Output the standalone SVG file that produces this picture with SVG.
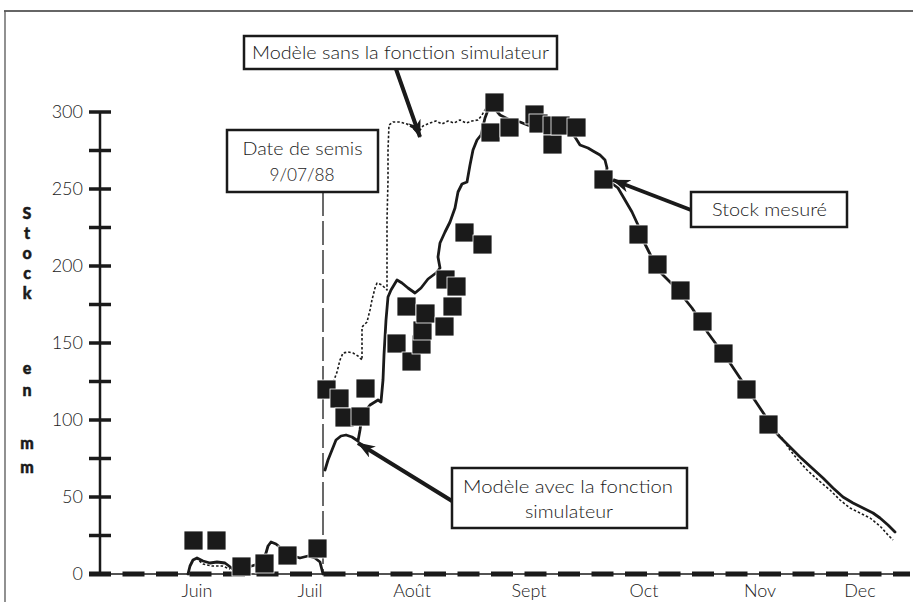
<svg xmlns="http://www.w3.org/2000/svg" width="913" height="602" viewBox="0 0 913 602">
<style>
.t{font-family:Lato,"Open Sans","Liberation Sans",sans-serif;fill:#1a1a1a;font-weight:300}
.lbl{font-size:18px}
.tick{font-size:18px;text-anchor:end}
.mon{font-size:18px;text-anchor:middle}
.yl{font-family:Lato,"Open Sans","Liberation Sans",sans-serif;font-size:16px;font-weight:900;text-anchor:middle;fill:#1a1a1a;stroke:#1a1a1a;stroke-width:0.5}
.box{fill:#fff;stroke:#1a1a1a;stroke-width:2.5}
.arr{stroke:#1a1a1a;stroke-width:4;fill:none;marker-end:url(#ah)}
.sq{fill:#1a1a1a;stroke:#fff;stroke-width:0.8}
.solid{fill:none;stroke:#1a1a1a;stroke-width:2.8;stroke-linejoin:round;stroke-linecap:round}
.dot{fill:none;stroke:#1a1a1a;stroke-width:1.6;stroke-dasharray:2.5 2;stroke-linejoin:round}
.ytick{stroke:#1a1a1a;stroke-width:3.5}
</style>
<defs>
<marker id="ah" markerUnits="userSpaceOnUse" markerWidth="22" markerHeight="14" refX="17" refY="6.5" orient="auto">
<path d="M0,0 L18,6.5 L0,13 L5,6.5 z" fill="#1a1a1a"/>
</marker>
</defs>
<rect width="913" height="602" fill="#fff"/>
<!-- frame -->
<line x1="4" y1="11" x2="913" y2="11" stroke="#333" stroke-width="1.5"/>
<line x1="5" y1="11" x2="5" y2="602" stroke="#555" stroke-width="1.3"/>

<!-- y axis -->
<g id="y-axis">
<line x1="100" y1="112" x2="100" y2="574" stroke="#1a1a1a" stroke-width="2.5"/>
<g class="ytick">
<line x1="89" y1="112" x2="111" y2="112"/>
<line x1="89" y1="150.5" x2="111" y2="150.5"/>
<line x1="89" y1="189" x2="111" y2="189"/>
<line x1="89" y1="227.5" x2="111" y2="227.5"/>
<line x1="89" y1="266" x2="111" y2="266"/>
<line x1="89" y1="304.5" x2="111" y2="304.5"/>
<line x1="89" y1="343" x2="111" y2="343"/>
<line x1="89" y1="381.5" x2="111" y2="381.5"/>
<line x1="89" y1="420" x2="111" y2="420"/>
<line x1="89" y1="458.5" x2="111" y2="458.5"/>
<line x1="89" y1="497" x2="111" y2="497"/>
<line x1="89" y1="535.5" x2="111" y2="535.5"/>
</g>
<text class="t tick" x="83" y="118">300</text>
<text class="t tick" x="83" y="195">250</text>
<text class="t tick" x="83" y="272">200</text>
<text class="t tick" x="83" y="349">150</text>
<text class="t tick" x="83" y="426">100</text>
<text class="t tick" x="83" y="503">50</text>
<text class="t tick" x="83" y="580">0</text>
</g>
<g id="y-label">
<text class="yl" x="27" y="219">S</text>
<text class="yl" x="27" y="239">t</text>
<text class="yl" x="27" y="259">o</text>
<text class="yl" x="27" y="279">c</text>
<text class="yl" x="27" y="299">k</text>
<text class="yl" x="27" y="374">e</text>
<text class="yl" x="27" y="396">n</text>
<text class="yl" x="27" y="449">m</text>
<text class="yl" x="27" y="473">m</text>
</g>

<!-- x axis -->
<g id="x-axis">
<line x1="89" y1="574" x2="910" y2="574" stroke="#1a1a1a" stroke-width="1.5"/>
<line x1="89" y1="574" x2="910" y2="574" stroke="#1a1a1a" stroke-width="5" stroke-dasharray="22 11.5"/>
<text class="t mon" x="197" y="597">Juin</text>
<text class="t mon" x="310" y="597">Juil</text>
<text class="t mon" x="412" y="597">Août</text>
<text class="t mon" x="529" y="597">Sept</text>
<text class="t mon" x="644" y="597">Oct</text>
<text class="t mon" x="760" y="597">Nov</text>
<text class="t mon" x="860" y="597">Dec</text>
</g>

<!-- sowing date line -->
<line x1="323" y1="192" x2="323" y2="574" stroke="#1a1a1a" stroke-width="1.3" stroke-dasharray="24 5"/>

<!-- model without simulator (dotted) -->
<g id="curve-sans">
<polyline class="dot" points="325,398 333,383 337,372 340,360 343,353 348,352 353,353 358,356 362,360 362,345 362,327 367,322 370,310 372,300 375,288 377,283 382,285 387,290 387,260 387,220 388,180 388,150 389,125 393,122 400,122 407,124 413,128 418,133 423,126 430,123 436,121 442,124 448,121 454,123 460,120 466,123 472,121 478,120 482,115 486,108"/>
<polyline class="dot" points="778,434 782,438 790,450 798,460 807,470 818,480 830,490 840,500 850,508 860,513 870,518 880,526 888,535 893,540"/>
<polyline class="dot" points="196,558 203,564 212,566 222,566 230,569"/>
</g>

<!-- model with simulator (solid) -->
<g id="curve-avec">
<polyline class="solid" points="188,574 190,566 193,560 197,558 203,561 210,563 217,562 225,563 229,566 234,570 245,568 255,565 262,561 266,553 268,546 271,542 276,544 282,549 290,555 300,558 308,556 315,558 320,562 322,570 323,574"/>
<polyline class="solid" points="325,470 328,460 332,450 336,440 341,436 346,435 352,437 358,441 360,430 362,415 370,405 378,400 381,402 383,380 384,355 386,320 388,297 391,290 397,280 402,283 408,288 415,293 421,288 428,279 436,273 440,268 438,257 440,243 445,232 450,222 455,208 458,192 462,184 467,182 470,165 473,150 477,140 481,135 485,118 488,110 494,108 500,115 510,120 520,122 530,126 540,128 550,127 560,130 570,133 575,137 580,145 588,148 593,151 600,155 605,160 607,168 606,175 610,182 618,188 625,200 632,212 638,225 642,238 648,250 654,262 660,272 668,280 676,288 684,298 692,308 700,320 708,333 716,344 724,354 732,366 740,378 748,390 756,402 764,414 772,428 780,437 790,447 800,457 812,468 823,478 833,488 843,497 853,503 863,508 873,513 880,518 888,525 895,532"/>
</g>

<!-- measured stock -->
<g id="stock-mesure">
<rect class="sq" x="184" y="531" width="19" height="19"/>
<rect class="sq" x="207" y="531" width="19" height="19"/>
<rect class="sq" x="232" y="557" width="19" height="19"/>
<rect class="sq" x="255" y="554" width="19" height="19"/>
<rect class="sq" x="278" y="546" width="19" height="19"/>
<rect class="sq" x="308" y="539" width="19" height="19"/>
<rect class="sq" x="317" y="380" width="19" height="19"/>
<rect class="sq" x="330" y="389" width="19" height="19"/>
<rect class="sq" x="335" y="408" width="19" height="19"/>
<rect class="sq" x="351" y="407" width="19" height="19"/>
<rect class="sq" x="356" y="379" width="19" height="19"/>
<rect class="sq" x="387" y="334" width="19" height="19"/>
<rect class="sq" x="402" y="352" width="19" height="19"/>
<rect class="sq" x="397" y="297" width="19" height="19"/>
<rect class="sq" x="412" y="335" width="19" height="19"/>
<rect class="sq" x="413" y="321" width="19" height="19"/>
<rect class="sq" x="416" y="304" width="19" height="19"/>
<rect class="sq" x="435" y="317" width="19" height="19"/>
<rect class="sq" x="443" y="297" width="19" height="19"/>
<rect class="sq" x="436" y="270" width="19" height="19"/>
<rect class="sq" x="447" y="277" width="19" height="19"/>
<rect class="sq" x="455" y="223" width="19" height="19"/>
<rect class="sq" x="473" y="235" width="19" height="19"/>
<rect class="sq" x="485" y="93" width="19" height="19"/>
<rect class="sq" x="481" y="123" width="19" height="19"/>
<rect class="sq" x="500" y="118" width="19" height="19"/>
<rect class="sq" x="525" y="105" width="19" height="19"/>
<rect class="sq" x="529" y="114" width="19" height="19"/>
<rect class="sq" x="543" y="116" width="19" height="19"/>
<rect class="sq" x="543" y="135" width="19" height="19"/>
<rect class="sq" x="551" y="116" width="19" height="19"/>
<rect class="sq" x="567" y="118" width="19" height="19"/>
<rect class="sq" x="594" y="170" width="19" height="19"/>
<rect class="sq" x="629" y="225" width="19" height="19"/>
<rect class="sq" x="648" y="255" width="19" height="19"/>
<rect class="sq" x="671" y="281" width="19" height="19"/>
<rect class="sq" x="693" y="312" width="19" height="19"/>
<rect class="sq" x="714" y="344" width="19" height="19"/>
<rect class="sq" x="737" y="380" width="19" height="19"/>
<rect class="sq" x="759" y="415" width="19" height="19"/>
</g>

<!-- connectors -->
<g id="connectors">
<line class="arr" x1="396" y1="69" x2="420" y2="137"/>
<line class="arr" x1="691" y1="210" x2="613" y2="180"/>
<line class="arr" x1="452" y1="501" x2="358" y2="443"/>
</g>

<!-- label nodes -->
<g id="node-sans">
<rect class="box" x="244" y="36" width="313" height="33"/>
<text class="t lbl" x="400.5" y="59" text-anchor="middle" textLength="297" lengthAdjust="spacingAndGlyphs">Modèle sans la fonction simulateur</text>
</g>
<g id="node-semis">
<rect class="box" x="227" y="130" width="151" height="62"/>
<text class="t lbl" x="302.5" y="155" text-anchor="middle" textLength="120" lengthAdjust="spacingAndGlyphs">Date de semis</text>
<text class="t lbl" x="302" y="181" text-anchor="middle" textLength="65" lengthAdjust="spacingAndGlyphs">9/07/88</text>
</g>
<g id="node-stock">
<rect class="box" x="691" y="192" width="156" height="35"/>
<text class="t lbl" x="769.5" y="216" text-anchor="middle" textLength="115" lengthAdjust="spacingAndGlyphs">Stock mesuré</text>
</g>
<g id="node-avec">
<rect class="box" x="452" y="468" width="235" height="60"/>
<text class="t lbl" x="568" y="493" text-anchor="middle" textLength="210" lengthAdjust="spacingAndGlyphs">Modèle avec la fonction</text>
<text class="t lbl" x="569" y="518" text-anchor="middle" textLength="88" lengthAdjust="spacingAndGlyphs">simulateur</text>
</g>
</svg>
